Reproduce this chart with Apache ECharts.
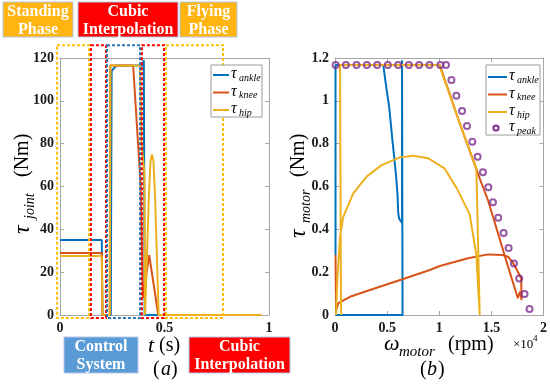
<!DOCTYPE html>
<html><head><meta charset="utf-8">
<script src="https://cdn.jsdelivr.net/npm/echarts@6/dist/echarts.min.js"></script>
<style>html,body{margin:0;padding:0;background:#fff}#c{width:550px;height:385px}</style>
</head><body><div id="c"></div>
<script>
// ---- (a) joint torque vs time ----
const tTicks = [0, 0.5, 1];
const tAnkle = [0, 0.2, 0.203, 0.243, 0.247, 0.27, 0.395, 0.401, 0.405, 0.47];
const ankleNm = [35, 35, 0, 0, 114, 116.5, 116.5, 119, 0, 0];
const tKnee = [0, 0.2, 0.203, 0.238, 0.241, 0.35, 0.385, 0.397, 0.402, 0.427, 0.47, 0.5];
const kneeNm = [29, 29, 0, 0, 116.5, 116.5, 62, 8, 8, 28, 0, 0];
const tHip = [0, 0.2, 0.203, 0.238, 0.241, 0.383, 0.39, 0.404, 0.407, 0.415, 0.425, 0.433, 0.44, 0.447, 0.455, 0.472, 0.965];
const hipNm = [27.5, 27.5, 0, 0, 116.5, 116.5, 80, 66, 0, 0, 55, 72, 75, 72, 55, 0, 0];
// phase boxes (time intervals)
const phaseStart = [-0.014, 0.148, 0.225, 0.392, 0.507];
const phaseEnd = [0.139, 0.22, 0.383, 0.498, 0.78];
const phaseColor = ['#FFC000', '#FF0000', '#2E75B6', '#FF0000', '#FFC000'];
const phaseTop = 126, phaseBottom = -1.4;

// ---- (b) motor torque vs speed (x10^4 rpm) ----
const wAnkle = [0.005, 0.005, 0.463, 0.49, 0.52, 0.55, 0.584, 0.60, 0.606, 0.615, 0.643, 0.643, 0.648, 0.005];
const mAnkle = [0.28, 1.167, 1.167, 1.07, 0.97, 0.82, 0.66, 0.56, 0.48, 0.45, 0.43, 1.19, 0, 0];
const wKnee = [0.005, 0.01, 0.032, 0.144, 0.335, 0.654, 0.909, 1.005, 1.276, 1.467, 1.605, 1.66, 1.706, 1.77, 1.786, 1.79, 1.775, 1.754, 1.66, 1.467, 1.388, 1.2, 1.005, 0.03];
const mKnee = [0.28, 0.02, 0.055, 0.085, 0.117, 0.168, 0.21, 0.229, 0.265, 0.283, 0.28, 0.272, 0.245, 0.187, 0.17, 0.07, 0.11, 0.078, 0.226, 0.537, 0.638, 0.89, 1.167, 1.167];
const wHip = [0.058, 0.048, 1.0, 1.2, 1.356, 1.388, 1.404, 1.356, 1.292, 1.17, 1.05, 0.894, 0.75, 0.622, 0.447, 0.303, 0.175, 0.08, 0.048, 0.022, 0.01];
const mHip = [0, 1.167, 1.167, 0.89, 0.685, 0, 0, 0.28, 0.47, 0.59, 0.685, 0.732, 0.744, 0.736, 0.70, 0.646, 0.568, 0.459, 0.366, 0.163, 0];
const wPeak = [0.006, 0.105, 0.207, 0.306, 0.405, 0.507, 0.606, 0.708, 0.807, 0.906, 1.011, 1.065, 1.117, 1.164, 1.219, 1.266, 1.317, 1.368, 1.419, 1.471, 1.515, 1.566, 1.617, 1.665, 1.716, 1.767, 1.818, 1.866];
const mPeak = [1.167, 1.167, 1.167, 1.167, 1.167, 1.167, 1.167, 1.167, 1.167, 1.167, 1.167, 1.167, 1.097, 1.024, 0.952, 0.882, 0.809, 0.739, 0.666, 0.596, 0.526, 0.454, 0.383, 0.313, 0.241, 0.170, 0.098, 0.028];

const C_ANK = '#0072BD', C_KNE = '#D95319', C_HIP = '#EDB120', C_PEAK = '#7E2F8E';
const FONT = '"Liberation Serif", "Times New Roman", serif';
const AX = '#A6A6A6';
const zip = (a, b) => a.map((v, i) => [v, b[i]]);

function axis(o) {
  return Object.assign({
    type: 'value', scale: false,
    axisLine: { show: true, onZero: false, lineStyle: { color: AX, width: 1 } },
    axisTick: { show: true, inside: true, length: 4, lineStyle: { color: AX } },
    splitLine: { show: false },
    axisLabel: { show: true, color: '#1a1a1a', fontFamily: FONT, fontWeight: 'bold', fontSize: 14, margin: 6 }
  }, o);
}
const noLab = { show: false };
function line(data, color, xi, yi, z) {
  return { type: 'line', data, xAxisIndex: xi, yAxisIndex: yi, showSymbol: false, symbol: 'none',
    lineStyle: { color, width: 2 }, itemStyle: { color }, z: z, animation: false };
}

const chart = echarts.init(document.getElementById('c'));
chart.setOption({
  animation: false,
  grid: [
    { left: 60, top: 58, width: 209, height: 257 },
    { left: 335, top: 58, width: 209, height: 257 }
  ],
  xAxis: [
    axis({ gridIndex: 0, min: 0, max: 1, interval: 0.5, position: 'bottom' }),
    axis({ gridIndex: 0, min: 0, max: 1, interval: 0.5, position: 'top', axisLabel: noLab }),
    axis({ gridIndex: 1, min: 0, max: 2, interval: 0.5, position: 'bottom' }),
    axis({ gridIndex: 1, min: 0, max: 2, interval: 0.5, position: 'top', axisLabel: noLab })
  ],
  yAxis: [
    axis({ gridIndex: 0, min: 0, max: 120, interval: 20, position: 'left' }),
    axis({ gridIndex: 0, min: 0, max: 120, interval: 20, position: 'right', axisLabel: noLab }),
    axis({ gridIndex: 1, min: 0, max: 1.2, interval: 0.2, position: 'left',
      axisLabel: { color: '#1a1a1a', fontFamily: FONT, fontWeight: 'bold', fontSize: 14, margin: 6,
        formatter: v => String(+v.toFixed(1)) } }),
    axis({ gridIndex: 1, min: 0, max: 1.2, interval: 0.2, position: 'right', axisLabel: noLab })
  ],
  series: [
    line(zip(tAnkle, ankleNm), C_ANK, 0, 0, 2),
    line(zip(tKnee, kneeNm), C_KNE, 0, 0, 3),
    line(zip(tHip, hipNm), C_HIP, 0, 0, 4),
    line(zip(wAnkle, mAnkle), C_ANK, 2, 2, 2),
    line(zip(wKnee, mKnee), C_KNE, 2, 2, 3),
    line(zip(wHip, mHip), C_HIP, 2, 2, 4),
    { type: 'scatter', data: zip(wPeak, mPeak), xAxisIndex: 2, yAxisIndex: 2, symbol: 'circle', symbolSize: 6,
      itemStyle: { color: 'rgba(255,255,255,0)', borderColor: C_PEAK, borderWidth: 2 }, z: 5 }
  ]
});

function txt(x, y, text, font, fill, align, valign) {
  return { type: 'text', x, y, z: 100, style: { text, font, fill: fill || '#000',
    align: align || 'left', textAlign: align || 'left', verticalAlign: valign || 'middle', textVerticalAlign: valign || 'middle' } };
}
function btxt(x, y, text) {
  return { type: 'text', x, y, z: 91, style: { text, fontFamily: 'Liberation Serif', fontWeight: 'bold', fontSize: 16,
    fill: '#fff', align: 'center', textAlign: 'center', verticalAlign: 'middle', textVerticalAlign: 'middle' } };
}
function box(x, y, w, h, fill, l1, l2) {
  return [
    { type: 'rect', z: 90, shape: { x, y, width: w, height: h }, style: { fill, stroke: '#B4C7E7', lineWidth: 1 } },
    btxt(x + w / 2, y + h / 2 - 8, l1),
    btxt(x + w / 2, y + h / 2 + 10, l2)
  ];
}
function legend(x, y, w, h, items) {
  const els = [{ type: 'rect', z: 95, shape: { x, y, width: w, height: h }, style: { fill: '#fff', stroke: '#999', lineWidth: 1 } }];
  items.forEach(it => {
    if (it.marker) {
      els.push({ type: 'circle', z: 96, shape: { cx: x + 10, cy: it.y, r: 2.6 }, style: { fill: 'none', stroke: it.color, lineWidth: 2 } });
    } else {
      els.push({ type: 'line', z: 96, shape: { x1: x + 2, y1: it.y, x2: x + it.len, y2: it.y }, style: { stroke: it.color, lineWidth: 2 } });
    }
    els.push(txt(x + it.len + 2, it.y - 1, 'τ', 'italic 16px ' + FONT));
    els.push(txt(x + it.len + 10, it.y + 3, it.sub, 'italic 10px ' + FONT));
  });
  return els;
}
function yTitle(x0, y0, sub, nmOff) {
  const st = (text, font) => ({ text, font, fill: '#000', align: 'left', textAlign: 'left', verticalAlign: 'middle', textVerticalAlign: 'middle' });
  return { type: 'group', x: x0, y: y0, rotation: Math.PI / 2, z: 100, children: [
    { type: 'text', x: 0, y: 0, style: st('τ', 'italic 24px ' + FONT) },
    { type: 'text', x: 15, y: 7, style: st(sub, 'italic 14px ' + FONT) },
    { type: 'text', x: nmOff, y: 0, style: st('(Nm)', '20px ' + FONT) }
  ] };
}

function buildGraphics() {
  const g = [];
  for (let i = 0; i < phaseStart.length; i++) {
    const p1 = chart.convertToPixel({ xAxisIndex: 0, yAxisIndex: 0 }, [phaseStart[i], phaseTop]);
    const p2 = chart.convertToPixel({ xAxisIndex: 0, yAxisIndex: 0 }, [phaseEnd[i], phaseBottom]);
    g.push({ type: 'rect', z: 80, shape: { x: p1[0], y: p1[1], width: p2[0] - p1[0], height: p2[1] - p1[1] },
      style: { fill: 'none', stroke: phaseColor[i], lineWidth: 2, lineDash: [3, 2] } });
  }
  g.push(...box(3, 2, 70, 35, '#FFB40F', 'Standing', 'Phase'));
  g.push(...box(78, 2, 100, 35, '#FF0000', 'Cubic', 'Interpolation'));
  g.push(...box(180, 2, 57, 35, '#FFB40F', 'Flying', 'Phase'));
  g.push(...box(64, 337, 74, 36, '#5B9BD5', 'Control', 'System'));
  g.push(...box(189, 337, 101, 36, '#FF0000', 'Cubic', 'Interpolation'));
  g.push(...legend(211, 65, 51, 52, [
    { y: 75, color: C_ANK, sub: 'ankle', len: 18 },
    { y: 92.5, color: C_KNE, sub: 'knee', len: 18 },
    { y: 110, color: C_HIP, sub: 'hip', len: 18 }
  ]));
  g.push(...legend(486, 65, 54, 70, [
    { y: 77, color: C_ANK, sub: 'ankle', len: 21 },
    { y: 94.5, color: C_KNE, sub: 'knee', len: 21 },
    { y: 112, color: C_HIP, sub: 'hip', len: 21 },
    { y: 128, color: C_PEAK, sub: 'peak', len: 21, marker: true }
  ]));
  g.push(yTitle(23, 234, 'joint', 57));
  g.push(yTitle(299, 238, 'motor', 61));
  g.push(txt(148, 346, 't', 'italic 22px ' + FONT));
  g.push(txt(159, 346, '(s)', '20px ' + FONT));
  g.push(txt(153, 370, '(', '20px ' + FONT));
  g.push(txt(161, 370, 'a', 'italic 20px ' + FONT));
  g.push(txt(171, 370, ')', '20px ' + FONT));
  g.push(txt(384, 344, 'ω', 'italic 22px ' + FONT));
  g.push(txt(399, 352, 'motor', 'italic 15px ' + FONT));
  g.push(txt(448, 345, '(rpm)', '20px ' + FONT));
  g.push(txt(513, 345, '×10', '13px ' + FONT));
  g.push(txt(533, 339, '4', '9px ' + FONT));
  g.push(txt(420, 370, '(', '20px ' + FONT));
  g.push(txt(427, 370, 'b', 'italic 20px ' + FONT));
  g.push(txt(438, 370, ')', '20px ' + FONT));
  return g;
}
chart.setOption({ graphic: buildGraphics() });
</script>
</body></html>
